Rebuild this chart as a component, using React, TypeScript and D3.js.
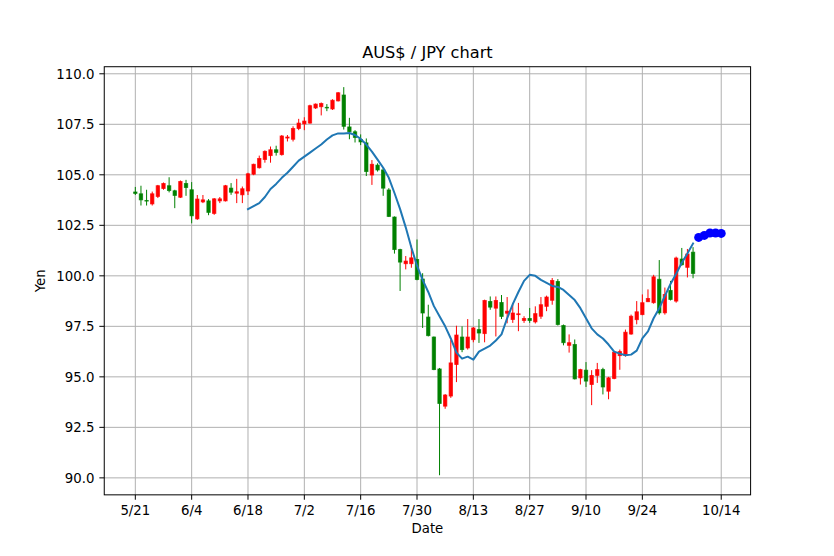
import React from "react";
import * as d3 from "d3";

// ---- data (trading-day index 0..99 = candles, 100..104 = forecast) ----
const opens = [
  104.15, 104.06, 103.73, 103.56, 103.93, 104.32, 104.46, 104.21, 103.89, 104.57,
  104.26, 102.82, 103.66, 103.71, 103.09, 103.71, 103.71, 104.34, 104.09, 104.01,
  104.2, 105.03, 105.35, 105.76, 105.95, 106.24, 106.0, 106.82, 106.76, 107.29,
  107.52, 107.56, 108.31, 108.37, 108.34, 108.26, 108.66, 108.95, 107.37, 107.13,
  106.75, 106.58, 104.99, 105.48, 105.24, 104.25, 102.91, 101.3, 100.6, 100.6,
  100.81, 99.84, 97.96, 96.97, 95.39, 93.55, 94.05, 95.61, 96.97, 96.43,
  96.84, 97.34, 97.14, 98.73, 98.4, 98.68, 98.15, 97.84, 98.08, 97.79,
  97.89, 97.72, 98.0, 98.49, 98.79, 99.72, 97.54, 96.56, 96.6, 94.95,
  95.33, 94.62, 95.07, 95.36, 94.29, 94.92, 96.05, 96.06, 97.12, 97.83,
  98.08, 98.72, 98.67, 99.83, 98.17, 99.28, 98.75, 100.83, 100.42, 101.17,
];
const highs = [
  104.4, 104.46, 104.26, 104.17, 104.5, 104.62, 104.88, 104.26, 104.72, 104.75,
  104.64, 104.0, 104.0, 103.8, 103.85, 103.9, 104.5, 104.59, 104.8, 104.42,
  105.1, 105.55, 105.95, 106.21, 106.4, 106.44, 106.97, 106.97, 107.4, 107.77,
  107.85, 108.47, 108.53, 108.58, 108.5, 108.74, 109.1, 109.34, 107.82, 107.21,
  107.0, 106.8, 105.73, 105.57, 105.37, 104.34, 102.94, 101.34, 100.98, 101.5,
  101.8, 100.13, 98.57, 97.0, 95.44, 94.15, 96.84, 97.53, 97.5, 97.86,
  97.47, 97.86, 98.82, 98.98, 98.98, 99.05, 98.95, 98.66, 98.66, 98.0,
  98.41, 98.49, 98.95, 99.02, 99.89, 99.84, 97.59, 97.1, 96.85, 95.4,
  95.73, 95.33, 95.69, 95.45, 95.0, 96.27, 96.35, 97.34, 98.08, 98.75,
  99.08, 99.33, 100.05, 100.78, 99.42, 99.75, 100.95, 101.38, 101.33, 101.42,
];
const lows = [
  104.0, 103.48, 103.48, 103.48, 103.85, 104.26, 104.13, 103.35, 103.85, 103.96,
  102.6, 102.77, 103.6, 103.0, 103.02, 103.6, 103.68, 104.01, 103.6, 103.6,
  104.0, 104.98, 105.31, 105.6, 105.6, 105.95, 105.95, 106.65, 106.65, 107.21,
  107.21, 107.53, 108.26, 107.94, 108.15, 108.21, 108.63, 107.24, 106.76, 106.6,
  106.47, 104.94, 104.5, 105.16, 103.96, 102.91, 101.1, 99.25, 100.32, 100.4,
  99.78, 97.42, 97.0, 95.33, 90.13, 93.42, 93.96, 94.74, 96.22, 96.35,
  96.71, 96.68, 96.71, 98.32, 97.0, 97.86, 97.65, 97.67, 97.26, 97.67,
  97.67, 97.64, 97.87, 98.25, 98.57, 97.54, 96.56, 96.2, 94.87, 94.62,
  94.5, 93.6, 94.7, 94.13, 93.89, 94.88, 95.35, 96.0, 97.08, 97.6,
  98.05, 98.7, 98.62, 98.08, 98.08, 98.78, 98.67, 100.5, 99.92, 99.88,
];
const closes = [
  104.08, 103.76, 103.7, 104.06, 104.46, 104.57, 104.22, 103.98, 104.67, 104.37,
  102.97, 103.8, 103.76, 103.14, 103.81, 103.81, 104.46, 104.14, 104.16, 104.31,
  105.05, 105.52, 105.81, 106.16, 106.24, 106.11, 106.92, 106.87, 107.29, 107.56,
  107.66, 108.42, 108.5, 108.53, 108.31, 108.69, 109.06, 107.4, 107.13, 106.85,
  106.63, 105.16, 105.52, 105.24, 104.34, 102.94, 101.3, 100.68, 100.73, 100.89,
  99.82, 98.16, 97.04, 95.36, 93.68, 94.1, 95.69, 97.07, 96.35, 96.97,
  97.42, 97.17, 98.78, 98.45, 98.78, 97.99, 98.25, 98.16, 98.12, 97.89,
  97.79, 98.13, 98.57, 98.95, 99.77, 97.59, 96.69, 96.69, 94.9, 95.36,
  94.79, 95.07, 95.36, 94.5, 94.95, 96.22, 96.25, 97.21, 98.0, 98.22,
  98.67, 98.88, 99.95, 98.17, 99.08, 98.83, 100.88, 100.55, 101.08, 100.12,
];
// 20-day moving average, starting at index 20
const maStart = 20;
const maValues = [
  103.3, 103.45, 103.6, 103.9, 104.3, 104.55, 104.85, 105.1, 105.4, 105.7,
  105.9, 106.1, 106.3, 106.5, 106.75, 106.95, 107.05, 107.05, 107.07, 106.97,
  106.78, 106.5, 106.15, 105.75, 105.35, 104.85, 104.1, 103.3, 102.4, 101.4,
  100.5, 99.8, 99.2, 98.5, 98.0, 97.5, 96.9, 96.2, 95.9, 96.0,
  95.85, 96.25, 96.4, 96.55, 96.8, 97.1, 97.9, 98.6, 99.2, 99.75,
  100.05, 100.0, 99.8, 99.65, 99.5, 99.45, 99.3, 99.05, 98.8, 98.4,
  97.9, 97.4, 97.1, 96.9, 96.6, 96.25, 96.15, 96.07, 96.1, 96.3,
  96.9, 97.25, 97.9, 98.4, 99.0, 99.6, 100.1, 100.65, 101.1, 101.6,
];
const forecastStart = 100;
const forecast = [101.9, 102.0, 102.12, 102.12, 102.1];

const xTickIdx = [0, 10, 20, 30, 40, 50, 60, 70, 80, 90, 104];
const xTickLabels = ["5/21", "6/4", "6/18", "7/2", "7/16", "7/30", "8/13", "8/27", "9/10", "9/24", "10/14"];
const yTicks = [90, 92.5, 95, 97.5, 100, 102.5, 105, 107.5, 110];

const W = 834;
const H = 556;
const L = 104.25, R = 750.6, T = 66.72, B = 494.84;
const UP = "#ff0000";
const DOWN = "#008000";
const FONT = "DejaVu Sans, sans-serif";

export default function App() {
  const x = d3.scaleLinear().domain([-5.515, 109.215]).range([L, R]);
  const y = d3.scaleLinear().domain([89.16, 110.35]).range([B, T]);
  const half = (x(0.3) - x(-0.3)) / 2;

  const maLine = d3
    .line<number>()
    .x((_, i) => x(i + maStart))
    .y((d) => y(d))(maValues) as string;

  return (
    <svg
      width={W}
      height={H}
      style={{ position: "absolute", left: 0, top: 0, background: "#fff" }}
      fontFamily={FONT}
    >
      <rect x={0} y={0} width={W} height={H} fill="#fff" />
      {/* grid */}
      <g stroke="#b0b0b0" strokeWidth={1}>
        {xTickIdx.map((t) => (
          <line key={"gx" + t} x1={x(t)} x2={x(t)} y1={T} y2={B} />
        ))}
        {yTicks.map((t) => (
          <line key={"gy" + t} x1={L} x2={R} y1={y(t)} y2={y(t)} />
        ))}
      </g>
      {/* wicks */}
      <g strokeWidth={1}>
        {opens.map((o, i) => (
          <line
            key={"w" + i}
            x1={x(i)}
            x2={x(i)}
            y1={y(highs[i])}
            y2={y(lows[i])}
            stroke={closes[i] >= o ? UP : DOWN}
          />
        ))}
      </g>
      {/* candle bodies */}
      <g>
        {opens.map((o, i) => {
          const c = closes[i];
          const col = c >= o ? UP : DOWN;
          const top = y(Math.max(o, c));
          const bot = y(Math.min(o, c));
          return (
            <rect
              key={"b" + i}
              x={x(i) - half}
              y={top}
              width={half * 2}
              height={Math.max(bot - top, 0.3)}
              fill={col}
              stroke={col}
              strokeWidth={0.9}
              strokeOpacity={0.75}
            />
          );
        })}
      </g>
      {/* moving average */}
      <path d={maLine} fill="none" stroke="#1f77b4" strokeWidth={2} strokeLinejoin="round" strokeLinecap="square" />
      {/* forecast */}
      <g fill="#0000ff">
        {forecast.map((v, i) => (
          <circle key={"f" + i} cx={x(i + forecastStart)} cy={y(v)} r={4.5} />
        ))}
      </g>
      {/* spines */}
      <rect x={L} y={T} width={R - L} height={B - T} fill="none" stroke="#000" strokeWidth={1} />
      {/* x ticks */}
      <g>
        {xTickIdx.map((t, k) => (
          <g key={"xt" + t}>
            <line x1={x(t)} x2={x(t)} y1={B} y2={B + 4.9} stroke="#000" strokeWidth={1} />
            <text x={x(t)} y={B + 20.6} textAnchor="middle" fontSize={13.3} fill="#000">
              {xTickLabels[k]}
            </text>
          </g>
        ))}
      </g>
      {/* y ticks */}
      <g>
        {yTicks.map((t) => (
          <g key={"yt" + t}>
            <line x1={L - 4.9} x2={L} y1={y(t)} y2={y(t)} stroke="#000" strokeWidth={1} />
            <text x={L - 9.8} y={y(t)} dy="0.36em" textAnchor="end" fontSize={13.3} fill="#000">
              {t.toFixed(1)}
            </text>
          </g>
        ))}
      </g>
      <text x={(L + R) / 2} y={58} textAnchor="middle" fontSize={16.2} fill="#000">
        AUS$ / JPY chart
      </text>
      <text x={(L + R) / 2} y={533} textAnchor="middle" fontSize={13.3} fill="#000">
        Date
      </text>
      <text
        transform={`translate(45,${(T + B) / 2}) rotate(-90)`}
        textAnchor="middle"
        fontSize={13.3}
        fill="#000"
      >
        Yen
      </text>
    </svg>
  );
}
